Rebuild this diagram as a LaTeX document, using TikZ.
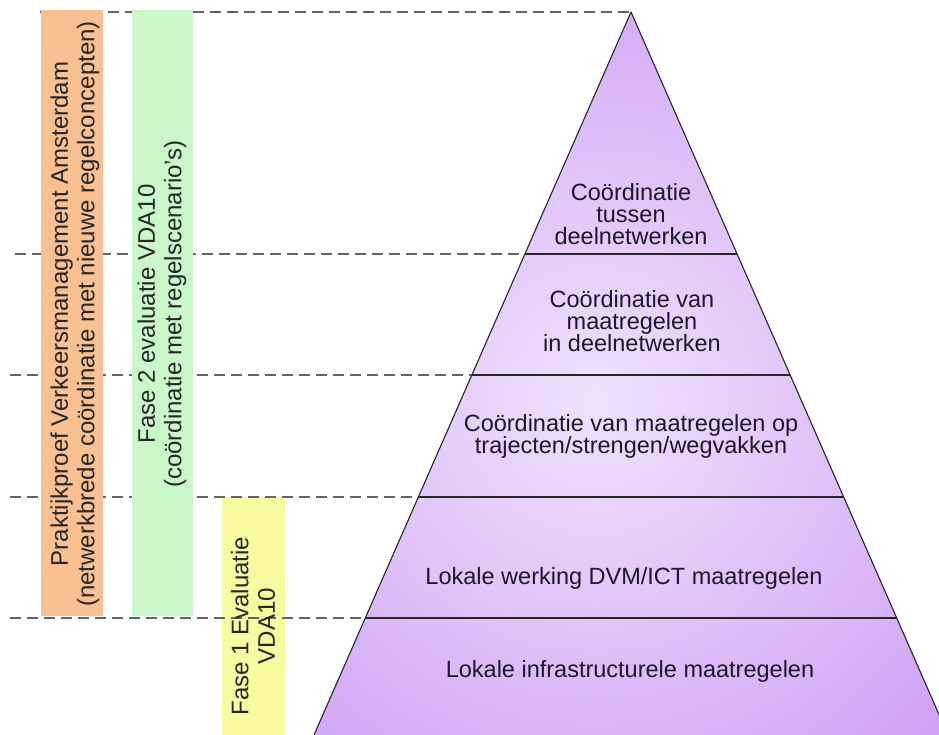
\documentclass[tikz,border=0pt]{standalone}
\usepackage{fontspec}
\setmainfont{Liberation Sans}
\definecolor{barorange}{RGB}{249,192,146}
\definecolor{bargreen}{RGB}{202,248,202}
\definecolor{baryellow}{RGB}{250,250,160}
\definecolor{pyrout}{RGB}{194,138,242}
\definecolor{pyrin}{RGB}{240,225,252}
\definecolor{dashgray}{RGB}{100,100,100}
\definecolor{txt}{RGB}{30,22,45}
\tikzset{
  levelline/.style={draw=black!85, line width=1.1pt},
  guide/.style={draw=dashgray, line width=1.8pt, dash pattern=on 11pt off 6pt},
  htext/.style={inner sep=0pt, align=center, text=txt, font=\fontsize{23.5}{22}\selectfont},
  vtext/.style={inner sep=0pt, align=center, text=black!85, rotate=90, font=\fontsize{24}{26.5}\selectfont}
}
\begin{document}
\begin{tikzpicture}[x=1pt,y=-1pt]
\useasboundingbox (0,0) rectangle (939,735);
\clip (0,0) rectangle (939,735);
\fill[white] (0,0) rectangle (939,735);
% pyramid corners and levels
\coordinate (apex) at (631,12);
\coordinate (bl) at (314,735);
\coordinate (br) at (948,735);
\coordinate (L1) at (524.9,254); \coordinate (R1) at (737.1,254);
\coordinate (L2) at (471.9,375); \coordinate (R2) at (790.1,375);
\coordinate (L3) at (418.4,497); \coordinate (R3) at (843.6,497);
\coordinate (L4) at (365.3,618); \coordinate (R4) at (896.7,618);
\coordinate (D0) at (40,12);
\coordinate (D1) at (15,254);
\coordinate (D2) at (10,375);
\coordinate (D3) at (10,497);
\coordinate (D4) at (10,618);
% pyramid fill
\begin{scope}
  \clip (apex) -- (bl) -- (br) -- cycle;
  \shade[inner color=pyrin, outer color=pyrout] (595,400) circle (660);
\end{scope}
% yellow bar
\fill[baryellow] (222,497) rectangle (285,740);
% dashed guides
\draw[guide] (D0) -- (apex);
\draw[guide] (D1) -- (L1);
\draw[guide] (D2) -- (L2);
\draw[guide] (D3) -- (L3);
\draw[guide] (D4) -- (L4);
% orange and green bars
\fill[barorange] (41,10) rectangle (103,616);
\fill[bargreen] (132,10) rectangle (193,616);
% pyramid outline and levels
\draw[levelline, line join=round] (bl) -- (apex) -- (br);
\draw[levelline] (L1) -- (R1);
\draw[levelline] (L2) -- (R2);
\draw[levelline] (L3) -- (R3);
\draw[levelline] (L4) -- (R4);
% pyramid texts
\node[htext] (t1) at (631,214) {Coördinatie\\tussen\\deelnetwerken};
\node[htext] (t2) at (632,321) {Coördinatie van\\maatregelen\\in deelnetwerken};
\node[htext] (t3) at (631,436) {Coördinatie van maatregelen op\\trajecten/strengen/wegvakken};
\node[htext] (t4) at (624,578) {Lokale werking DVM/ICT maatregelen};
\node[htext] (t5) at (630,671) {Lokale infrastructurele maatregelen};
% bar texts
\node[vtext] (vo) at (75,314) {Praktijkproef Verkeersmanagement Amsterdam\\(netwerkbrede coördinatie met nieuwe regelconcepten)};
\node[vtext] (vg) at (162,314) {Fase 2 evaluatie VDA10\\(coördinatie met regelscenario's)};
\node[vtext] (vy) at (253,626) {Fase 1 Evaluatie\\VDA10};
\end{tikzpicture}
\end{document}
